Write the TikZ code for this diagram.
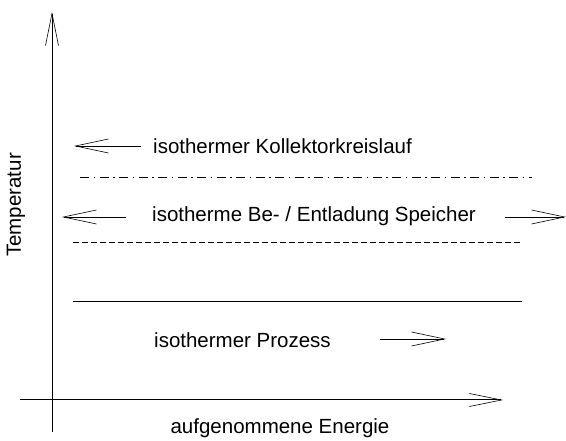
\documentclass[tikz,border=0pt]{standalone}
\usepackage{fontspec}
\setmainfont{Liberation Sans}
\usetikzlibrary{arrows.meta,positioning}
\tikzstyle{axis} = [line width=1pt, -{Straight Barb[length=32pt, width=13pt, line width=0.6pt]}]
\tikzstyle{flow} = [line width=0.6pt, -{Straight Barb[length=33pt, width=14pt]}]
\tikzstyle{label} = [inner sep=0pt, font=\fontsize{20.5}{24}\selectfont]
\tikzstyle{level} = [line width=0.8pt]

\begin{document}
\begin{tikzpicture}[x=1pt, y=-1pt]
    \useasboundingbox (0,0) rectangle (566,441);
    % Axes
    \coordinate (origin) at (52,400);
    \coordinate (ybot) at (52,432);
    \coordinate (ytop) at (52,12);
    \coordinate (xleft) at (20,400);
    \coordinate (xright) at (503,400);
    \draw [axis] (ybot) -- (ytop);
    \draw [axis] (xleft) -- (xright);
    \node [label] (xlabel) at (280,428) {aufgenommene Energie};
    \node [label, rotate=90] (ylabel) at (16,205) {Temperatur};

    % Kollektorkreislauf
    \node [label, anchor=west] (collector) at (153,146) {isothermer Kollektorkreislauf};
    \coordinate (c1) at (141,146);
    \coordinate (c2) at (74,146);
    \draw [flow] (c1) -- (c2);
    \coordinate (d1) at (80,177);
    \coordinate (d2) at (532,177);
    \draw [level, dash pattern=on 9pt off 4.5pt on 1.5pt off 4.5pt] (d1) -- (d2);

    % Speicher
    \node [label, anchor=west] (storage) at (152,216) {isotherme Be- / Entladung Speicher};
    \coordinate (s1) at (126,217);
    \coordinate (s2) at (62,217);
    \draw [flow] (s1) -- (s2);
    \coordinate (s3) at (505,217);
    \coordinate (s4) at (566,217);
    \draw [flow] (s3) -- (s4);
    \coordinate (e1) at (73,242);
    \coordinate (e2) at (522,242);
    \draw [level, dash pattern=on 6pt off 3pt] (e1) -- (e2);

    % Prozess
    \coordinate (p1) at (73,302);
    \coordinate (p2) at (522,302);
    \draw [level, line width=1pt] (p1) -- (p2);
    \node [label, anchor=west] (process) at (154,340) {isothermer Prozess};
    \coordinate (q1) at (380,339);
    \coordinate (q2) at (446,339);
    \draw [flow] (q1) -- (q2);
\end{tikzpicture}
\end{document}
